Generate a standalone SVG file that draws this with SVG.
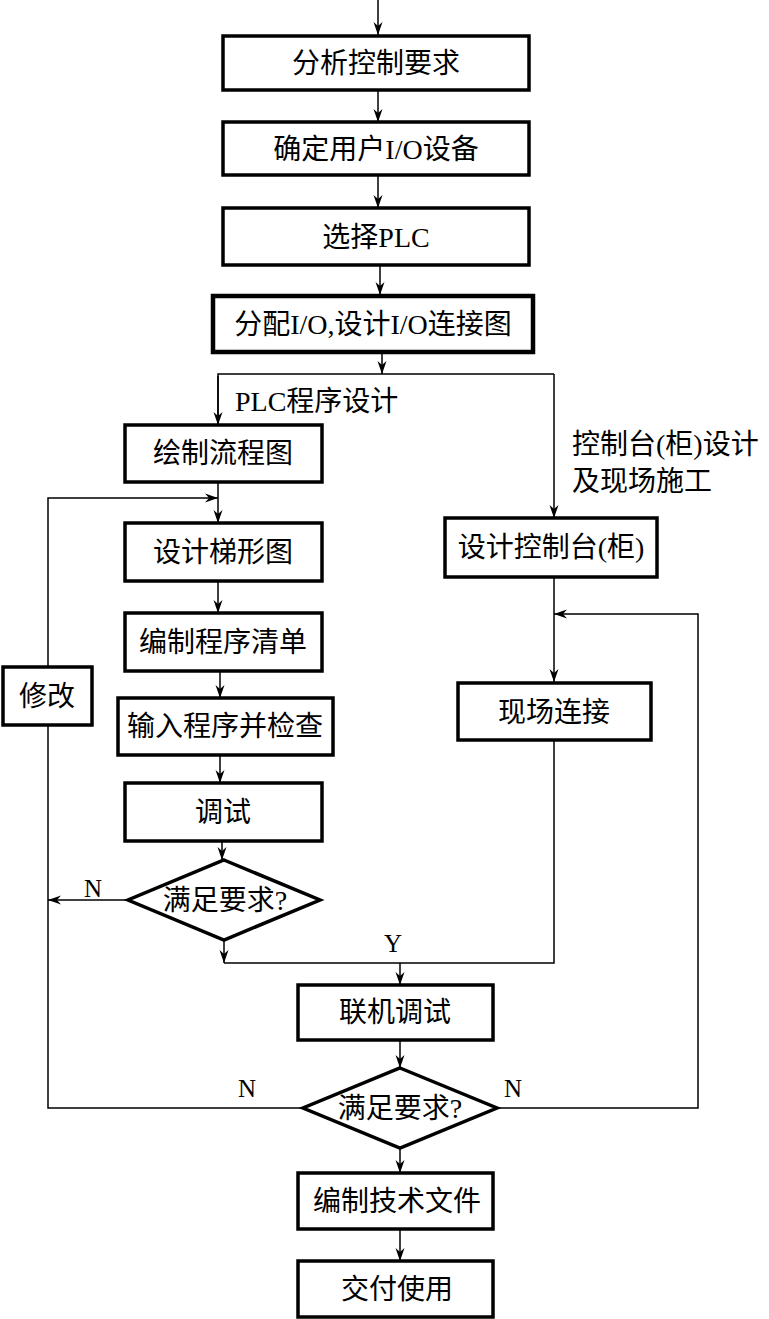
<svg xmlns="http://www.w3.org/2000/svg" width="769" height="1319" viewBox="0 0 769 1319">
<style>
.box{fill:#fff;stroke:#000;stroke-width:3.5}
.dia{fill:#fff;stroke:#000;stroke-width:3.5}
.ln{fill:none;stroke:#000;stroke-width:1.5}
.t{font-family:"Liberation Serif","Noto Sans CJK SC",serif;font-size:28px;fill:#000;text-anchor:middle}
.l{font-family:"Liberation Serif","Noto Sans CJK SC",serif;font-size:28px;fill:#000}
</style>
<defs>
<marker id="a" markerWidth="14" markerHeight="10" refX="13" refY="5" orient="auto" markerUnits="userSpaceOnUse">
<path d="M0,0.5 L13,5 L0,9.5 L4,5 z" fill="#000"/>
</marker>
</defs>
<rect width="769" height="1319" fill="#fff"/>
<g id="connectors">
<path class="ln" d="M378,0 V35" marker-end="url(#a)"/>
<path class="ln" d="M378,90 V122" marker-end="url(#a)"/>
<path class="ln" d="M378,175 V208" marker-end="url(#a)"/>
<path class="ln" d="M380,265 V295" marker-end="url(#a)"/>
<path class="ln" d="M382,352 V374" marker-end="url(#a)"/>
<path class="ln" d="M218,425 V374 H554"/>
<path class="ln" d="M218,376 V425" marker-end="url(#a)"/>
<path class="ln" d="M554,374 V518" marker-end="url(#a)"/>
<path class="ln" d="M218,482 V523" marker-end="url(#a)"/>
<path class="ln" d="M218,581 V613" marker-end="url(#a)"/>
<path class="ln" d="M220,671 V698" marker-end="url(#a)"/>
<path class="ln" d="M220,755 V783" marker-end="url(#a)"/>
<path class="ln" d="M222,841 V860" marker-end="url(#a)"/>
<path class="ln" d="M128,900 H48" marker-end="url(#a)"/>
<path class="ln" d="M224,940 V963" marker-end="url(#a)"/>
<path class="ln" d="M224,963 H554 V740"/>
<path class="ln" d="M400,963 V985" marker-end="url(#a)"/>
<path class="ln" d="M400,1040 V1068" marker-end="url(#a)"/>
<path class="ln" d="M303,1108 H48 V498 H218" marker-end="url(#a)"/>
<path class="ln" d="M497,1108 H698 V614 H554" marker-end="url(#a)"/>
<path class="ln" d="M554,577 V682" marker-end="url(#a)"/>
<path class="ln" d="M400,1148 V1173" marker-end="url(#a)"/>
<path class="ln" d="M400,1229 V1261" marker-end="url(#a)"/>
</g>
<g id="n1"><rect class="box" x="223" y="36" width="306" height="54"/><text class="t" x="376" y="73">分析控制要求</text></g>
<g id="n2"><rect class="box" x="223" y="122" width="306" height="53"/><text class="t" x="376" y="159">确定用户I/O设备</text></g>
<g id="n3"><rect class="box" x="223" y="208" width="306" height="57"/><text class="t" x="376" y="247">选择PLC</text></g>
<g id="n4"><rect class="box" x="213" y="296" width="320" height="56" style="stroke-width:4.5"/><text class="t" x="373" y="334">分配I/O,设计I/O连接图</text></g>
<g id="lbl1"><text class="l" x="235" y="411">PLC程序设计</text></g>
<g id="lbl2"><text class="l" x="572" y="454">控制台(柜)设计</text><text class="l" x="572" y="491">及现场施工</text></g>
<g id="n5"><rect class="box" x="125" y="425" width="197" height="57"/><text class="t" x="223" y="463">绘制流程图</text></g>
<g id="n6"><rect class="box" x="125" y="523" width="197" height="58"/><text class="t" x="223" y="562">设计梯形图</text></g>
<g id="n7"><rect class="box" x="125" y="613" width="197" height="58"/><text class="t" x="223" y="652">编制程序清单</text></g>
<g id="n8"><rect class="box" x="118" y="698" width="215" height="57"/><text class="t" x="225" y="736">输入程序并检查</text></g>
<g id="n9"><rect class="box" x="125" y="783" width="197" height="58"/><text class="t" x="223" y="822">调试</text></g>
<g id="d1"><polygon class="dia" points="224,860 320,900 224,940 128,900"/><text class="t" x="225" y="910">满足要求?</text></g>
<g id="nmod"><rect class="box" x="3" y="667" width="89" height="58"/><text class="t" x="47" y="706">修改</text></g>
<g id="n10"><rect class="box" x="445" y="518" width="212" height="59"/><text class="t" x="551" y="557">设计控制台(柜)</text></g>
<g id="n11"><rect class="box" x="458" y="683" width="193" height="57"/><text class="t" x="554" y="722">现场连接</text></g>
<g id="lblN1"><text class="l" x="84" y="897" style="font-size:25px">N</text></g>
<g id="lblY"><text class="l" x="384" y="952" style="font-size:25px">Y</text></g>
<g id="n12"><rect class="box" x="298" y="985" width="195" height="55"/><text class="t" x="395" y="1022">联机调试</text></g>
<g id="d2"><polygon class="dia" points="400,1068 497,1108 400,1148 303,1108"/><text class="t" x="400" y="1118">满足要求?</text></g>
<g id="lblN2"><text class="l" x="238" y="1097" style="font-size:25px">N</text></g>
<g id="lblN3"><text class="l" x="504" y="1097" style="font-size:25px">N</text></g>
<g id="n13"><rect class="box" x="298" y="1173" width="195" height="56"/><text class="t" x="397" y="1211">编制技术文件</text></g>
<g id="n14"><rect class="box" x="298" y="1261" width="195" height="56"/><text class="t" x="397" y="1299">交付使用</text></g>
</svg>
